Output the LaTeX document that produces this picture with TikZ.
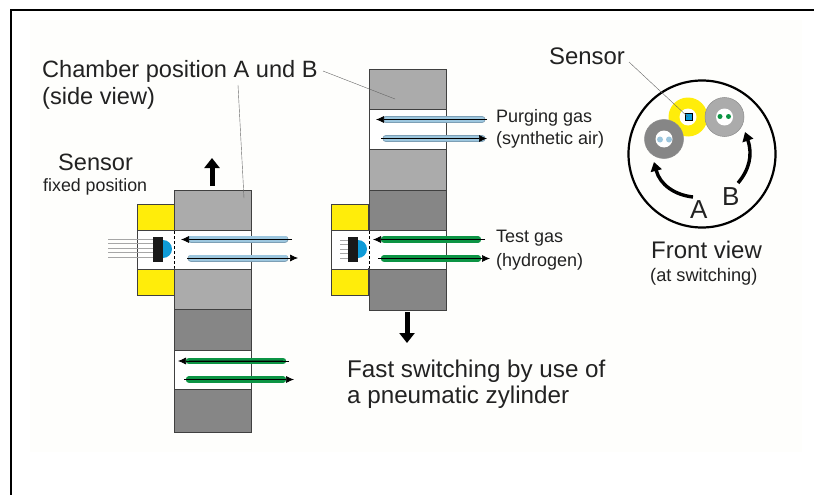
\documentclass[tikz,border=0pt]{standalone}
\usepackage{fontspec}
\setmainfont{Liberation Sans}
\usetikzlibrary{arrows.meta}
\definecolor{lgray}{HTML}{ABABAB}
\definecolor{dgray}{HTML}{868686}
\definecolor{edgec}{HTML}{404040}
\definecolor{yel}{HTML}{FFED0A}
\definecolor{blu}{HTML}{0E9BD8}
\definecolor{pipeb}{HTML}{9CC6DE}
\definecolor{pipeo}{HTML}{7D9FB5}
\definecolor{pipeg}{HTML}{0C9444}
\definecolor{pipegd}{HTML}{0A5C2E}
\definecolor{txt}{HTML}{222222}
\definecolor{paper}{HTML}{FEFEFC}
\tikzset{
 block/.style={draw=edgec,line width=1pt,minimum width=77pt,inner sep=0pt,outer sep=0pt},
 lg/.style={block,fill=lgray},
 dg/.style={block,fill=dgray},
 wh/.style={block,fill=white},
 yb/.style={draw=edgec,line width=.8pt,fill=yel,minimum width=37pt,minimum height=26pt,inner sep=0pt,outer sep=0pt},
 wb/.style={draw=edgec,line width=.8pt,fill=white,minimum width=37pt,minimum height=39pt,inner sep=0pt,outer sep=0pt},
 lbl/.style={text=txt,inner sep=0pt,anchor=west,align=left},
 flow/.style={line width=.7pt,black,-{Latex[length=8pt,width=7pt]}},
 pipeO/.style={line width=7pt,draw=pipeo,line cap=round},
 pipeB/.style={line width=5.4pt,draw=pipeb,line cap=round},
 pipeG/.style={line width=6.4pt,draw=pipeg,line cap=round},
 bigarrow/.style={line width=5pt,black,-{Triangle[length=10pt,width=15pt]}},
 curved/.style={line width=3.4pt,black,-{Triangle[length=9pt,width=11pt]}},
 lead/.style={line width=.4pt,draw=black!60},
 wire/.style={line width=.4pt,draw=black!35},
}
\newcommand{\bluepipes}[4]{%
 \draw[pipeO] (#1,#3) -- (#2,#3);
 \draw[pipeO] (#1,#4) -- (#2,#4);
 \draw[pipeB] (#1,#3) -- (#2,#3);
 \draw[pipeB] (#1,#4) -- (#2,#4);
}
\newcommand{\greenpipes}[4]{%
 \draw[pipeG] (#1,#3) -- (#2,#3);
 \draw[pipeG] (#1,#4) -- (#2,#4);
}
\begin{document}
\begin{tikzpicture}[x=1pt,y=-1pt]
\useasboundingbox (0,0) rectangle (814,495);
\fill[white] (0,0) rectangle (814,495);
\fill[paper] (30,20) rectangle (802,452);
\coordinate (fa) at (11,495); \coordinate (fb) at (11,10); \coordinate (fc) at (814,10);
\draw[black,line width=2.4pt] (fa) -- (fb) -- (fc);
% left column
\node[lg,minimum height=40pt] (la) at (212.5,210) {};
\node[wh,minimum height=39pt] (lb) at (212.5,249.5) {};
\node[lg,minimum height=40pt] (lc) at (212.5,289) {};
\node[dg,minimum height=41pt] (ld) at (212.5,329.5) {};
\node[wh,minimum height=39pt] (le) at (212.5,369.5) {};
\node[dg,minimum height=43pt] (lf) at (212.5,410.5) {};
% left sensor housing
\node[yb] (ly1) at (155.5,217) {};
\node[yb] (ly2) at (155.5,282) {};
\node[wb] (lw) at (155.5,249.5) {};
% middle column
\node[lg,minimum height=39pt] (ma) at (407.5,89.5) {};
\node[wh,minimum height=40pt] (mb) at (407.5,129) {};
\node[lg,minimum height=41pt] (mc) at (407.5,169.5) {};
\node[dg,minimum height=40pt] (md) at (407.5,210) {};
\node[wh,minimum height=39pt] (me) at (407.5,249.5) {};
\node[dg,minimum height=41pt] (mf) at (407.5,289.5) {};
\node[yb] (my1) at (350,217.5) {};
\node[yb] (my2) at (350,282) {};
\node[wb] (mw) at (350,249.5) {};
% sensors
\foreach \ox in {0,195}{
 \begin{scope}[xshift=\ox pt]
  \fill[white] (172,230.6) rectangle (176,268.4);
  \fill[blu] (163,240) arc (-90:90:9) -- cycle;
  \fill[black!90] (153,237) rectangle (163,262);
  \draw[densely dashed,line width=.8pt] (174,231) -- (174,268);
 \end{scope}}
\foreach \y in {239,243.5,248,252.5,257}{\draw[wire] (108,\y) -- (153,\y);}
\foreach \y in {240,244.5,249,253.5,258}{\draw[wire] (340,\y) -- (348,\y);}
% pipes
\bluepipes{191}{285}{239}{258}
\bluepipes{386}{482}{119.5}{138.5}
\greenpipes{384}{478}{239.5}{258.5}
\greenpipes{189}{283}{361}{379.5}
\draw[line width=1.2pt,draw=pipegd] (189,361) -- (283,361);
\draw[line width=1.2pt,draw=pipegd] (384,239.5) -- (478,239.5);
\draw[line width=1pt,draw=pipegd] (384,258.5) -- (478,258.5);
% flow arrows
\coordinate (f1a) at (292,239.5); \coordinate (f1b) at (181,239.5);
\coordinate (f2a) at (187,258); \coordinate (f2b) at (298,258);
\coordinate (f3a) at (487,119.5); \coordinate (f3b) at (376,119.5);
\coordinate (f4a) at (381,138.5); \coordinate (f4b) at (487,138.5);
\coordinate (f5a) at (485,239.5); \coordinate (f5b) at (373,239.5);
\coordinate (f6a) at (378,258.5); \coordinate (f6b) at (490,258.5);
\coordinate (f7a) at (289,361); \coordinate (f7b) at (178,361);
\coordinate (f8a) at (184,379.5); \coordinate (f8b) at (294,379.5);
\foreach \a/\b in {f1a/f1b,f2a/f2b,f3a/f3b,f4a/f4b,f5a/f5b,f6a/f6b,f7a/f7b,f8a/f8b}{\draw[flow] (\a) -- (\b);}
% big arrows
\coordinate (u1) at (212,186); \coordinate (u2) at (212,158);
\coordinate (d1) at (407,312); \coordinate (d2) at (407,343);
\draw[bigarrow] (u1) -- (u2);
\draw[bigarrow] (d1) -- (d2);
% front view
\node[circle,draw=black,line width=2.2pt,minimum size=147pt,inner sep=0pt] (fv) at (702,154) {};
\node[circle,fill=yel,minimum size=39pt,inner sep=0pt] (ys) at (688,117) {};
\node[circle,fill=white,minimum size=17pt,inner sep=0pt] (ysi) at (688,117) {};
\node[rectangle,draw=black,line width=.6pt,fill=blu,minimum size=7pt,inner sep=0pt] (ysq) at (688.5,116.5) {};
\node[circle,fill=lgray,draw=black!45,line width=.5pt,minimum size=39pt,inner sep=0pt] (gB) at (724.5,117) {};
\node[circle,fill=white,minimum size=17pt,inner sep=0pt] (gBi) at (724.5,117) {};
\node[circle,fill=pipeg,minimum size=5pt,inner sep=0pt] (gB1) at (720,116.5) {};
\node[circle,fill=pipeg,minimum size=5pt,inner sep=0pt] (gB2) at (728.5,116.5) {};
\node[circle,fill=dgray,draw=black!45,line width=.5pt,minimum size=39pt,inner sep=0pt] (gA) at (664,139) {};
\node[circle,fill=white,minimum size=17pt,inner sep=0pt] (gAi) at (664,139) {};
\node[circle,fill=pipeb,minimum size=6pt,inner sep=0pt] (gA1) at (660,139.5) {};
\node[circle,fill=pipeb,minimum size=6pt,inner sep=0pt] (gA2) at (669,139.5) {};
\coordinate (cA1) at (693,197); \coordinate (cA2) at (654,162);
\coordinate (cB1) at (738,183); \coordinate (cB2) at (745,132);
\draw[curved] (cA1) .. controls (675,195) and (660,185) .. (cA2);
\draw[curved] (cB1) .. controls (749,170) and (753,155) .. (cB2);
% labels
\node[lbl,font=\fontsize{23.6}{25}\selectfont] (t1) at (42,71) {Chamber position A und B};
\node[lbl,font=\fontsize{23.6}{25}\selectfont] (t2) at (42,98) {(side view)};
\node[lbl,font=\fontsize{23.6}{25}\selectfont] (t3) at (58,162) {Sensor};
\node[lbl,font=\fontsize{17.8}{20}\selectfont] (t4) at (43,187) {fixed position};
\node[lbl,font=\fontsize{18}{20}\selectfont] (t5) at (496,118) {Purging gas};
\node[lbl,font=\fontsize{18}{20}\selectfont] (t6) at (496,140) {(synthetic air)};
\node[lbl,font=\fontsize{18}{20}\selectfont] (t7) at (496,238) {Test gas};
\node[lbl,font=\fontsize{18}{20}\selectfont] (t8) at (496,262) {(hydrogen)};
\node[lbl,font=\fontsize{24.2}{26}\selectfont] (t9) at (347,371) {Fast switching by use of};
\node[lbl,font=\fontsize{24.2}{26}\selectfont] (t10) at (347,397) {a pneumatic zylinder};
\node[lbl,font=\fontsize{23.9}{26}\selectfont] (t11) at (549,56) {Sensor};
\node[lbl,font=\fontsize{24}{26}\selectfont] (t12) at (651,250) {Front view};
\node[lbl,font=\fontsize{18.2}{20}\selectfont] (t13) at (650,277) {(at switching)};
\node[lbl,font=\fontsize{26}{28}\selectfont] (tA) at (690,210) {A};
\node[lbl,font=\fontsize{26}{28}\selectfont] (tB) at (722,197) {B};
% leaders
\coordinate (l1) at (323,71); \coordinate (l2) at (395,99);
\coordinate (l3) at (238,85); \coordinate (l4) at (244,198);
\coordinate (l5) at (629,62); \coordinate (l6) at (688,117);
\draw[lead] (l1) -- (l2);
\draw[lead] (l3) -- (l4);
\draw[lead] (l5) -- (l6);
\end{tikzpicture}
\end{document}
